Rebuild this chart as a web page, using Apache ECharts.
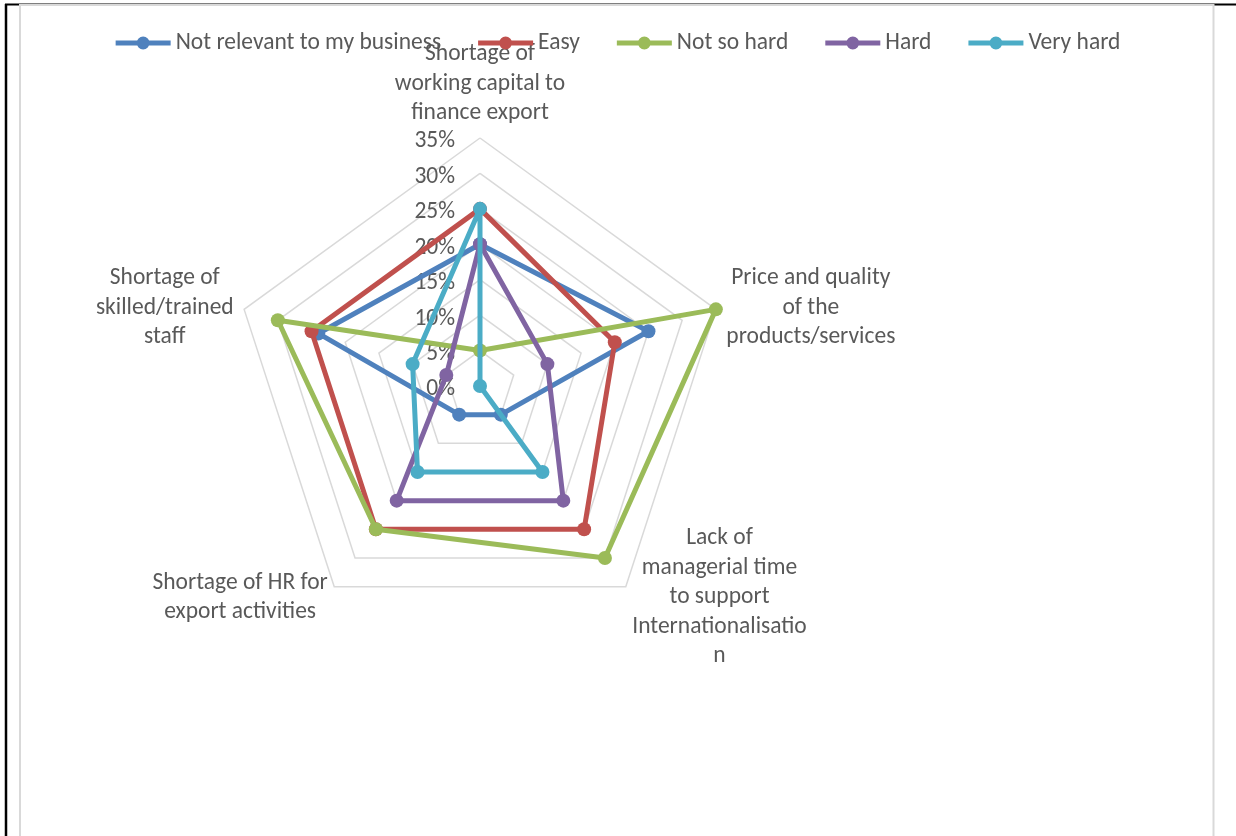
<!DOCTYPE html>
<html>
<head>
<meta charset="utf-8">
<style>
  html, body { margin: 0; padding: 0; background: #ffffff; }
  #chart { width: 1236px; height: 836px; }
</style>
<script src="https://cdn.jsdelivr.net/npm/echarts@6/dist/echarts.min.js"></script>
</head>
<body>
<div id="chart"></div>
<script>
// Axis names, one per spoke, clockwise from the top (line breaks as wrapped in the chart)
const indicatorNames = [
  'Shortage of\nworking capital to\nfinance export',
  'Price and quality\nof the\nproducts/services',
  'Lack of\nmanagerial time\nto support\nInternationalisatio\nn',
  'Shortage of HR for\nexport activities',
  'Shortage of\nskilled/trained\nstaff'
];

// Share of respondents (%) per answer, in the same spoke order
const seriesNames = ['Not relevant to my business', 'Easy', 'Not so hard', 'Hard', 'Very hard'];
const notRelevant = [20, 25, 5, 5, 24];
const easy        = [25, 20, 25, 25, 25];
const notSoHard   = [5, 35, 30, 25, 30];
const hard        = [20, 10, 20, 20, 5];
const veryHard    = [25, 0, 15, 15, 10];

// Radial scale
const axisMin = 0;
const axisMax = 35;
const axisSplits = 7;

const colors = ['#4F81BD', '#C0504D', '#9BBB59', '#8064A2', '#4BACC6'];
const values = [notRelevant, easy, notSoHard, hard, veryHard];

const FONT = "Carlito, Calibri, Lato, 'Open Sans', sans-serif";
const TEXT = '#595959';
const FS = 23.5;

// ECharts lays radar spokes out counter-clockwise; walk the spokes backwards
// after the first one so they run clockwise on screen.
const spokeOrder = [0].concat(indicatorNames.map((_, i) => i).slice(1).reverse());
const clockwise = arr => spokeOrder.map(i => arr[i]);

// Legend swatch: a short thick line with a round marker on it
const legendIcon = 'path://M0,4 L55,4 L55,9 L0,9 Z M21,6.5 A6.5,6.5 0 1 1 34,6.5 A6.5,6.5 0 1 1 21,6.5 Z';

const chart = echarts.init(document.getElementById('chart'), null, { renderer: 'canvas' });

const indicators = clockwise(indicatorNames).map((n, i) => {
  const ind = { name: n, min: axisMin, max: axisMax };
  if (i === 0) {
    ind.axisLabel = { show: true };
    ind.nameGap = 10;
  }
  return ind;
});

const option = {
  animation: false,
  backgroundColor: '#ffffff',
  color: colors,
  legend: {
    data: seriesNames,
    left: 'center',
    top: 31,
    padding: 0,
    itemWidth: 55,
    itemHeight: 13,
    itemGap: 37,
    icon: legendIcon,
    textStyle: { color: TEXT, fontSize: FS, fontFamily: FONT }
  },
  radar: {
    center: [480, 386],
    radius: 248,
    startAngle: 90,
    shape: 'polygon',
    splitNumber: axisSplits,
    indicator: indicators,
    nameGap: 11,
    axisName: {
      color: TEXT,
      fontSize: FS,
      fontFamily: FONT,
      padding: [4, 0, 0, 0],
      formatter: function (value) {
        return value.split('\n').map(function (l) { return '{c|' + l + '}'; }).join('\n');
      },
      rich: {
        c: { align: 'center', color: TEXT, fontSize: FS, fontFamily: FONT, lineHeight: 29.5 }
      }
    },
    axisLine: { show: false },
    axisTick: { show: false },
    axisLabel: {
      show: false,
      formatter: '{value}%',
      margin: 25,
      verticalAlign: 'top',
      lineHeight: 7,
      color: TEXT,
      fontSize: FS,
      fontFamily: FONT
    },
    splitLine: { lineStyle: { color: '#D9D9D9', width: 1.5 } },
    splitArea: { show: false }
  },
  series: seriesNames.map((name, i) => ({
    name: name,
    type: 'radar',
    symbol: 'circle',
    symbolSize: 14,
    z: 2 + i,
    lineStyle: { width: 5, color: colors[i] },
    itemStyle: { color: colors[i] },
    data: [{ name: name, value: clockwise(values[i]) }]
  })),
  graphic: [
    // page frame
    { type: 'line', silent: true, shape: { x1: 6, y1: 4, x2: 6, y2: 836 }, style: { stroke: '#000', lineWidth: 2.5 } },
    { type: 'line', silent: true, shape: { x1: 5, y1: 4.5, x2: 1236, y2: 4.5 }, style: { stroke: '#000', lineWidth: 2 } },
    // chart area border
    { type: 'rect', silent: true, shape: { x: 20, y: 5, width: 1193.5, height: 900 }, style: { fill: 'none', stroke: '#D9D9D9', lineWidth: 2 } }
  ]
};

chart.setOption(option);
</script>
</body>
</html>
